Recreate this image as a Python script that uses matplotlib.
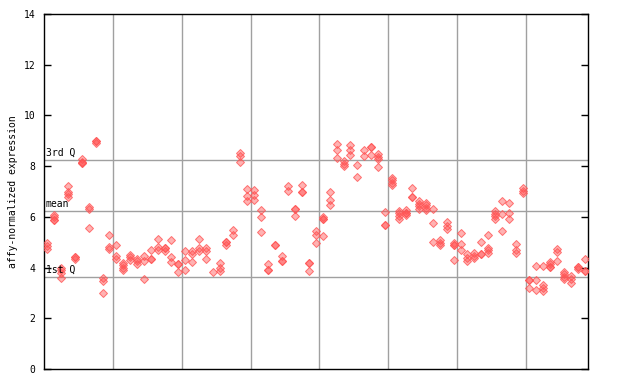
import matplotlib
matplotlib.use("Agg")
import matplotlib.pyplot as plt

# replicate values per sample (duplicates mark overlapping points)
expression = [
    [4.96, 4.85, 4.75], [6.07, 5.98, 5.87, 5.87], [3.99, 3.90, 3.80, 3.59],
    [7.22, 6.99, 6.90, 6.80], [4.40, 4.40, 4.33], [8.28, 8.18, 8.11, 8.11],
    [6.40, 6.30, 5.55], [8.98, 8.98, 8.93], [3.58, 3.47, 3.01],
    [5.27, 4.82, 4.72], [4.88, 4.46, 4.35], [4.19, 4.10, 3.98, 3.90],
    [4.51, 4.40, 4.30], [4.35, 4.25, 4.14], [4.46, 4.25, 3.54],
    [4.69, 4.35, 4.35], [5.11, 4.80, 4.69], [4.76, 4.76, 4.66],
    [5.09, 4.42, 4.21], [4.14, 4.14, 3.81], [4.64, 4.29, 3.89],
    [4.64, 4.55, 4.21], [5.11, 4.76, 4.66], [4.76, 4.66, 4.32],
    [3.81], [4.18, 3.97, 3.85], [5.01, 5.01, 4.90],
    [5.48, 5.27], [8.50, 8.40, 8.18], [7.08, 6.82, 6.62],
    [7.06, 6.86, 6.65], [6.26, 5.98, 5.39], [4.15, 3.92, 3.92],
    [4.89, 4.89], [4.44, 4.27, 4.27], [7.22, 7.01],
    [6.32, 6.32, 6.02], [7.26, 6.99, 6.99], [4.19, 4.19, 3.85],
    [5.45, 5.30, 4.95], [5.98, 5.90, 5.90, 5.23], [6.97, 6.66, 6.45],
    [8.87, 8.62, 8.31], [8.20, 8.10, 8.00], [8.85, 8.64, 8.44],
    [8.04, 7.57], [8.64, 8.41], [8.77, 8.77, 8.43],
    [8.48, 8.37, 8.28, 7.95], [6.18, 5.68, 5.68], [7.54, 7.44, 7.33, 7.24],
    [6.24, 6.14, 6.03, 5.93], [6.26, 6.16, 6.16, 6.06], [7.12, 6.80, 6.80],
    [6.62, 6.52, 6.42, 6.31], [6.56, 6.45, 6.36, 6.27], [6.30, 5.75, 5.00],
    [5.09, 4.98, 4.89], [5.80, 5.63, 5.52], [4.98, 4.89, 4.89, 4.29],
    [5.35, 4.93, 4.68], [4.53, 4.38, 4.27], [4.56, 4.47, 4.38],
    [5.00, 4.55, 4.55], [5.27, 4.77, 4.68, 4.59], [6.23, 6.13, 6.02, 5.91],
    [6.61, 6.10, 5.44], [6.53, 6.14, 5.90], [4.92, 4.69, 4.59],
    [7.14, 7.03, 6.93], [3.51, 3.51, 3.18], [4.05, 3.50, 3.10],
    [4.05, 3.30, 3.19, 3.09], [4.22, 4.13, 4.04, 4.04], [4.72, 4.61, 4.25],
    [3.82, 3.73, 3.63, 3.54], [3.67, 3.55, 3.39], [4.01, 4.01, 3.95],
    [4.32, 3.88, 3.88],
]
q1_value = 3.63
mean_value = 6.23
q3_value = 8.24
y_ticks = [0, 2, 4, 6, 8, 10, 12, 14]
group_size = 10

fig = plt.figure(figsize=(6.4, 3.84), dpi=100)
ax = fig.add_axes([44 / 640, 1 - 369 / 384, 544 / 640, 355 / 384])
n = len(expression)
ax.set_xlim(-0.5, n - 0.5)
ax.set_ylim(0, 14)

grid_c = "#a0a0a0"
for g in range(group_size, n, group_size):
    ax.axvline(g - 0.5, color=grid_c, lw=1, zorder=1)
for v in (q1_value, mean_value, q3_value):
    ax.axhline(v, color=grid_c, lw=1, zorder=1)

xs, ys = [], []
for i, vals in enumerate(expression):
    for v in vals:
        xs.append(i)
        ys.append(v)
ax.plot(xs, ys, linestyle="none", marker="D", markersize=4.0,
        markerfacecolor=(1.0, 0.33, 0.33, 0.45), markeredgecolor=(1.0, 0.33, 0.33, 0.8),
        markeredgewidth=0.7, zorder=3)

mono = "DejaVu Sans Mono"
for v, lab in ((q3_value, "3rd Q"), (mean_value, "mean"), (q1_value, "1st Q")):
    ax.text(0.003, v + 0.08, lab, transform=ax.get_yaxis_transform(),
            ha="left", va="bottom", fontsize=7, family=mono, zorder=4)

ax.set_xticks([])
ax.set_yticks(y_ticks)
ax.set_yticklabels([str(t) for t in y_ticks], family=mono, fontsize=7)
ax.tick_params(axis="y", direction="in", length=5, width=1, right=True, left=True, pad=6)
for s in ax.spines.values():
    s.set_color("black")
    s.set_linewidth(1)
ax.set_ylabel("affy-normalized expression", family=mono, fontsize=7, labelpad=4)

fig.savefig("out.png", dpi=100)
